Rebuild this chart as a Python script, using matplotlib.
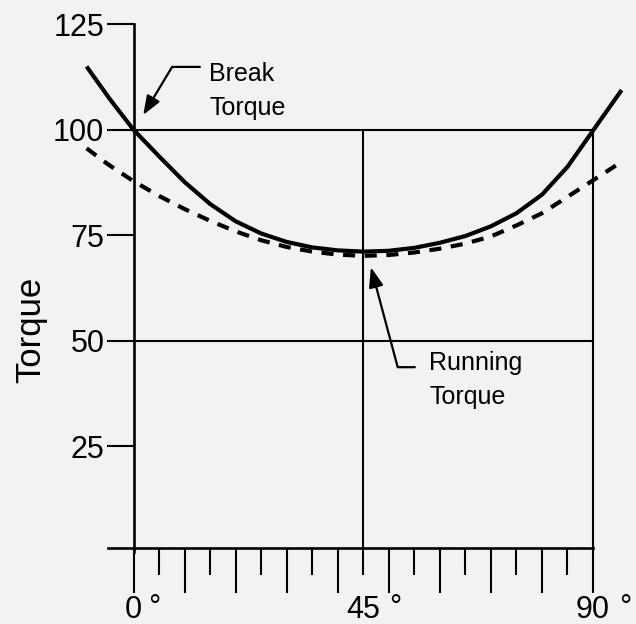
import matplotlib
matplotlib.use("Agg")
import matplotlib.pyplot as plt
from matplotlib.ticker import FixedLocator

plt.rcParams['font.family'] = ['Liberation Sans', 'DejaVu Sans']

# ---------------- data ----------------
break_angle = [-9.2, -4.6, 0, 5, 10, 15, 20, 25, 30, 35, 40, 45, 50, 55,
               60, 65, 70, 75, 80, 85, 90, 95.6]
break_torque = [115.0, 107.2, 100.0, 93.7, 87.6, 82.4, 78.3, 75.4, 73.4, 72.1,
                71.4, 71.1, 71.3, 72.0, 73.2, 74.8, 77.1, 80.2, 84.6, 91.2,
                99.8, 109.4]

run_angle = [-9.2, -5, 0, 5, 10, 15, 20, 25, 30, 35, 40, 45, 50, 55,
             60, 65, 70, 75, 80, 85, 90, 95.6]
run_torque = [95.6, 91.8, 87.8, 84.3, 81.2, 78.4, 75.9, 73.8, 72.2, 71.1,
              70.4, 70.1, 70.3, 70.9, 71.8, 73.0, 74.7, 77.3, 80.2, 84.1,
              88.0, 92.4]

y_ticks = [25, 50, 75, 100, 125]
x_major_ticks = [0, 10, 20, 30, 40, 50, 60, 70, 80, 90]
x_minor_ticks = [5, 15, 25, 35, 45, 55, 65, 75, 85]
x_label_pos = [0, 45, 90]
x_label_txt = ['0', '45', '90']
grid_y = [50, 100]
grid_x = [45, 90]

# ---------------- style ----------------
BG = '#f1f2f4'
INK = '#000000'
W, H = 636, 624

fig = plt.figure(figsize=(W / 100, H / 100), dpi=100, facecolor=BG)
ax = fig.add_axes([108 / W, 72.5 / H, 485 / W, 527.2 / H])
ax.set_facecolor(BG)
ax.set_xlim(-5, 90)
ax.set_ylim(0, 125)

for s in ['top', 'right']:
    ax.spines[s].set_visible(False)
ax.spines['left'].set_position(('data', 0))
ax.spines['bottom'].set_position(('data', 0.8))
for s in ['left', 'bottom']:
    ax.spines[s].set_linewidth(1.9)
    ax.spines[s].set_color(INK)

# x ticks: long every 10 deg, short in between, no automatic labels
ax.xaxis.set_major_locator(FixedLocator(x_major_ticks))
ax.xaxis.set_minor_locator(FixedLocator(x_minor_ticks))
ax.tick_params(axis='x', which='major', direction='out', length=32.4,
               width=1.5, color=INK, labelbottom=False)
ax.tick_params(axis='x', which='minor', direction='out', length=19.4,
               width=1.5, color=INK, labelbottom=False)

# y ticks
ax.yaxis.set_major_locator(FixedLocator(y_ticks))
ax.tick_params(axis='y', which='major', direction='out', length=19.2,
               width=1.5, color=INK, pad=1.8, labelsize=22, labelcolor=INK)

# reference lines
ax.hlines(grid_y, 0, 90, color=INK, lw=1.5, zorder=2, clip_on=False)
ax.vlines(grid_x, 0.8, 100, color=INK, lw=1.5, zorder=2, clip_on=False)

# curves
ax.plot(break_angle, break_torque, color=INK, lw=3.0, clip_on=False,
        solid_capstyle='butt', solid_joinstyle='round', zorder=3)
ax.plot(run_angle, run_torque, color=INK, lw=3.0, ls=(0, (2.9, 2.3)),
        clip_on=False, dash_capstyle='butt', zorder=3)

# x labels (number centred on tick, degree sign after it)
for pos, lab in zip(x_label_pos, x_label_txt):
    ax.annotate(lab, xy=(pos, 0.8), xytext=(0, -50.4), textcoords='offset points',
                ha='center', va='baseline', fontsize=22, color=INK,
                annotation_clip=False)
    ax.annotate('°', xy=(pos, 0.8), xytext=(8.2 * len(lab) + 2.4, -48.6),
                textcoords='offset points', ha='left', va='baseline',
                fontsize=22, color=INK, annotation_clip=False)

# y axis title
fig.text(31 / W, 1 - 330 / H, 'Torque', rotation=90, ha='center',
         va='center', fontsize=25, color=INK)

# annotations
arrow_kw = dict(color=INK, lw=1.6, shrinkA=0, shrinkB=0, mutation_scale=20)
ax.annotate('', xy=(1.9, 103.5), xytext=(13.0, 114.9),
            arrowprops=dict(arrowstyle='-|>,head_length=0.58,head_width=0.22',
                            connectionstyle='angle,angleA=0,angleB=59,rad=0',
                            **arrow_kw),
            annotation_clip=False)
ax.text(14.8, 116.0, 'Break\nTorque', ha='left', va='top', fontsize=18,
        linespacing=1.52, color=INK)

ax.annotate('', xy=(46.5, 67.4), xytext=(55.1, 43.7),
            arrowprops=dict(arrowstyle='-|>,head_length=0.6,head_width=0.22',
                            connectionstyle='angle,angleA=0,angleB=-75,rad=0',
                            **arrow_kw),
            annotation_clip=False)
ax.text(57.9, 47.5, 'Running\nTorque', ha='left', va='top', fontsize=18,
        linespacing=1.52, color=INK)

fig.savefig('out.png', dpi=100, facecolor=BG)
